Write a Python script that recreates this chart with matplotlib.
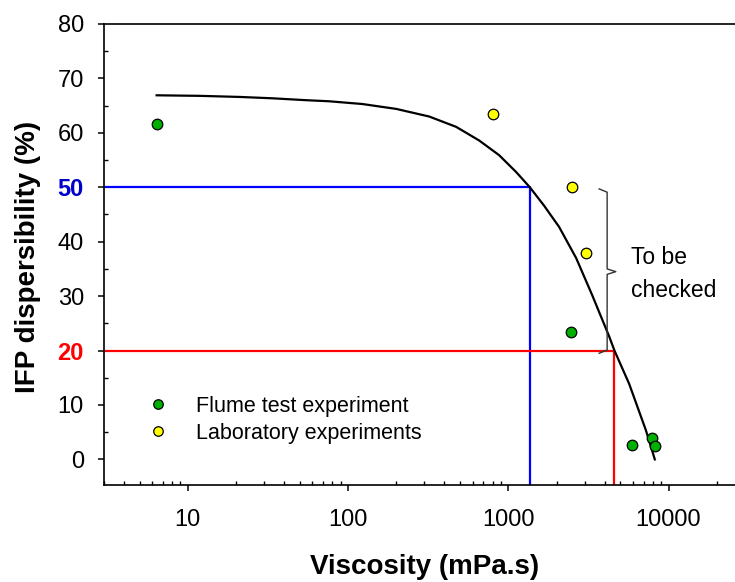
import matplotlib
matplotlib.use("Agg")
import matplotlib.pyplot as plt
from matplotlib.ticker import LogLocator, MultipleLocator, NullFormatter, FixedLocator

plt.rcParams['font.family'] = ['Liberation Sans', 'DejaVu Sans']

# ---- data ----
flume_x = [6.43, 2460, 5878, 7910, 8280]
flume_y = [61.7, 23.4, 2.6, 3.9, 2.4]
lab_x = [805, 2494, 3048]
lab_y = [63.4, 50.0, 38.0]

curve_x = [6.39, 11.8, 21.0, 33.7, 54.9, 76.3, 122.7, 199.8, 321, 473, 658, 877,
           1120, 1364, 1675, 2078, 2652, 3338, 4262, 4600, 5679, 7218, 8214]
curve_y = [66.9, 66.8, 66.6, 66.35, 66.0, 65.8, 65.3, 64.4, 63.0, 61.1, 58.6, 55.9,
           52.8, 50.0, 46.6, 42.7, 37.0, 30.2, 22.6, 20.0, 13.9, 5.4, 0.0]

blue_level = 50
blue_visc = 1364
red_level = 20
red_visc = 4600

y_ticks = [0, 10, 20, 30, 40, 50, 60, 70, 80]
x_ticks = [10, 100, 1000, 10000]
x_ticklabels = ['10', '100', '1000', '10000']

W, H = 735, 582
fig = plt.figure(figsize=(W / 100, H / 100), dpi=100)
ax = fig.add_axes([104 / W, 1 - 485 / H, 1 - 104 / W, (485 - 24) / H])

ax.set_xscale('log')
ax.set_xlim(3, 26000)
ax.set_ylim(-4.7, 80)

# guide lines
ax.plot([3, blue_visc, blue_visc], [blue_level, blue_level, -4.7], color='#0000FF', lw=1.6, zorder=2)
ax.plot([3, red_visc, red_visc], [red_level, red_level, -4.7], color='#FF0000', lw=1.6, zorder=2)

# fitted curve
ax.plot(curve_x, curve_y, color='black', lw=1.6, zorder=3, solid_joinstyle='round')

# points
ax.plot(flume_x, flume_y, 'o', ms=7.6, mfc='#00B000', mec='black', mew=0.9,
        zorder=4, label='Flume test experiment')
ax.plot(lab_x, lab_y, 'o', ms=7.6, mfc='#FFFF00', mec='black', mew=0.9,
        zorder=4, label='Laboratory experiments')

# bracket
bx, bh, bt = 4140, 3690, 4690
ax.plot([bh, bx, bx, bt, bx, bx, bh],
        [49.7, 49.1, 35.0, 34.5, 34.0, 20.1, 19.5],
        color='#333333', lw=1.0, zorder=3)
ax.text(5820, 34.0, 'To be\nchecked', fontsize=16.5, ha='left', va='center',
        linespacing=1.55)

# axes styling
for s in ['left', 'bottom', 'top']:
    ax.spines[s].set_linewidth(1.2)
ax.spines['right'].set_visible(False)

ax.xaxis.set_major_locator(FixedLocator(x_ticks))
ax.set_xticklabels(x_ticklabels)
ax.xaxis.set_minor_locator(LogLocator(base=10, subs=range(2, 10), numticks=20))
ax.xaxis.set_minor_formatter(NullFormatter())
ax.set_yticks(y_ticks)
ax.yaxis.set_minor_locator(MultipleLocator(5))

ax.tick_params(which='major', direction='out', length=4.5, width=1.1, labelsize=17)
ax.tick_params(which='minor', direction='in', length=3, width=1.0)
ax.tick_params(axis='x', which='major', pad=13)
ax.tick_params(axis='y', which='major', pad=10)
ax.tick_params(top=False, right=False, which='both')

for lbl in ax.get_yticklabels():
    if lbl.get_text() == '50':
        lbl.set_color('#0000CC')
        lbl.set_fontweight('bold')
    elif lbl.get_text() == '20':
        lbl.set_color('#FF0000')
        lbl.set_fontweight('bold')

fig.text(425 / W, 1 - 567 / H, 'Viscosity (mPa.s)', fontsize=20, fontweight='bold',
         ha='center', va='center')
fig.text(28 / W, 1 - 257 / H, 'IFP dispersibility (%)', fontsize=20, fontweight='bold',
         ha='center', va='center', rotation=90)

leg = ax.legend(loc='upper left', bbox_to_anchor=(147 / W, 1 - 396 / H),
                bbox_transform=fig.transFigure, frameon=False, fontsize=15.5,
                markerscale=0.9, handlelength=1.0, handletextpad=1.28,
                labelspacing=0.27, borderpad=0, borderaxespad=0)

fig.savefig('out.png', dpi=100)
